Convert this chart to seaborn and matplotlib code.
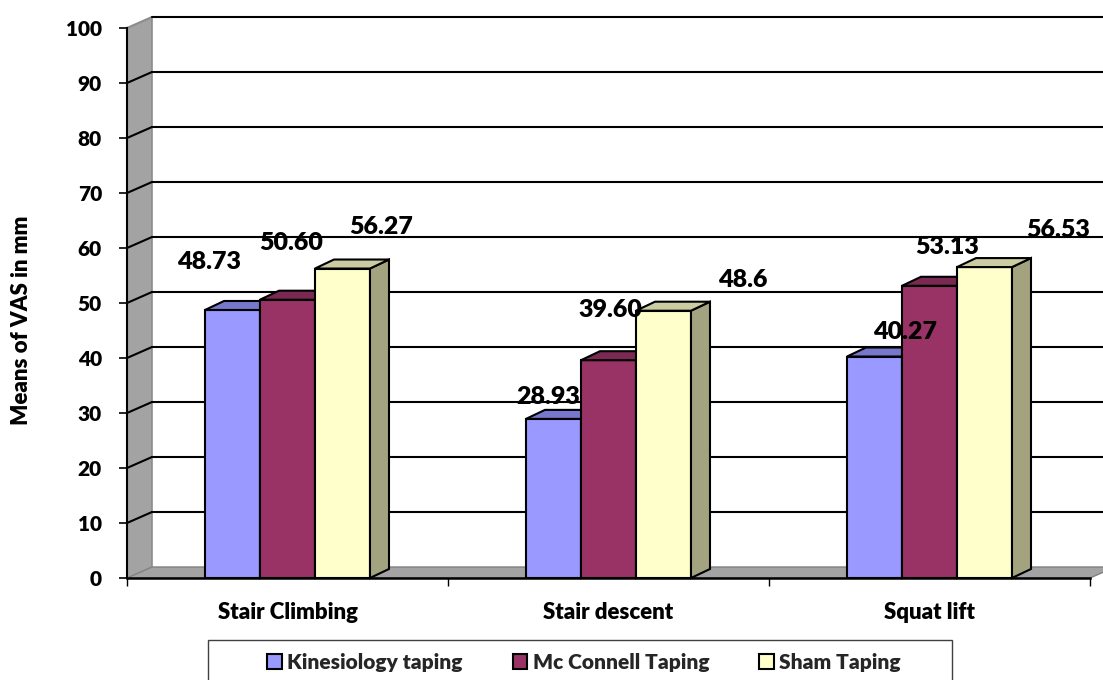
import matplotlib
matplotlib.use("Agg")
import numpy as np
import pandas as pd
import matplotlib.pyplot as plt
import seaborn as sns
from matplotlib.patches import Polygon, Rectangle, Patch
from matplotlib.lines import Line2D

# ---------------- data ----------------
categories = ["Stair Climbing", "Stair descent", "Squat lift"]
series = ["Kinesiology taping", "Mc Connell Taping", "Sham Taping"]
kinesiology = [48.73, 28.93, 40.27]
mcconnell = [50.60, 39.60, 53.13]
sham = [56.27, 48.60, 56.53]
value_labels = [["48.73", "28.93", "40.27"],
                ["50.60", "39.60", "53.13"],
                ["56.27", "48.6", "56.53"]]
y_ticks = list(range(0, 101, 10))
y_title = "Means of VAS in mm"

# ---------------- styles ----------------
front_colors = ["#9999FF", "#993366", "#FFFFCC"]
top_colors = ["#7777CC", "#7A2952", "#CCCCA3"]
side_colors = ["#7777CC", "#7A2952", "#A3A380"]
wall_grey = "#A3A3A3"
# label offsets in pixels relative to the top-centre of each bar [series][category]
label_offsets = [[(-23, 48), (-5, 22), (31, 25)],
                 [(4, 57), (2, 50), (18, 39)],
                 [(39, 42), (79, 31), (74, 37)]]
wall_depth = (25, 11)
bar_depth = (19, 9)
WEIGHT = "heavy"

sns.set_theme(style="white")
plt.rcParams["font.family"] = ["Lato", "DejaVu Sans"]
plt.rcParams["font.weight"] = WEIGHT

W, H = 1103, 680
fig = plt.figure(figsize=(W / 100, H / 100), dpi=100)
fig.patch.set_facecolor("white")
ax = fig.add_axes([127 / W, 102 / H, 963 / W, 550 / H])
ax.set_facecolor("none")

df = pd.DataFrame({
    "Task": categories * 3,
    "Taping": [series[0]] * 3 + [series[1]] * 3 + [series[2]] * 3,
    "Value": kinesiology + mcconnell + sham,
})

sns.barplot(data=df, x="Task", y="Value", hue="Taping", order=categories,
            hue_order=series, palette=front_colors, saturation=1,
            width=0.514, edgecolor="black", linewidth=1.5, ax=ax,
            legend=False, err_kws={"linewidth": 0})

ax.set_xlim(-0.5, 2.5)
ax.set_ylim(0, 100)
fig.canvas.draw()


def off(x, y, d):
    p = ax.transData.transform((x, y)) + np.array(d)
    return tuple(ax.transData.inverted().transform(p))


# side wall
x0, x1 = -0.5, 2.5
side = Polygon([(x0, 0), (x0, 100), off(x0, 100, wall_depth), off(x0, 0, wall_depth)],
               closed=True, facecolor=wall_grey, edgecolor="none", zorder=0.5, clip_on=False)
ax.add_patch(side)
# floor
floor = Polygon([(x0, 0), (x1, 0), off(x1, 0, wall_depth), off(x0, 0, wall_depth)],
                closed=True, facecolor=wall_grey, edgecolor="#808080", lw=1.0,
                zorder=0.6, clip_on=False)
ax.add_patch(floor)
# back-left edge of the wall
bl0 = off(x0, 0, wall_depth)
bl1 = off(x0, 100, wall_depth)
ax.add_line(Line2D([bl0[0], bl1[0]], [bl0[1], bl1[1]], color="#8C8C8C", lw=1.2,
                   zorder=0.7, clip_on=False))
far_right = 3.0
for lv in y_ticks[1:]:
    b = off(x0, lv, wall_depth)
    col = "#8C8C8C" if lv == 100 else "black"
    ax.add_line(Line2D([x0, b[0]], [lv, b[1]], color=col, lw=1.5, zorder=1, clip_on=False))
    ax.add_line(Line2D([b[0], far_right], [b[1], b[1]], color="black", lw=1.5,
                       zorder=1, clip_on=False))

# 3-D bar faces
for i, cont in enumerate(ax.containers):
    for j, p in enumerate(cont.patches):
        p.set_zorder(3 + 2 * i)
        bx, bw, bh = p.get_x(), p.get_width(), p.get_height()
        top = Polygon([(bx, bh), (bx + bw, bh), off(bx + bw, bh, bar_depth), off(bx, bh, bar_depth)],
                      closed=True, facecolor=top_colors[i], edgecolor="black", lw=1.5,
                      zorder=3.5 + 2 * i, clip_on=False)
        ax.add_patch(top)
        sd = Polygon([(bx + bw, 0), (bx + bw, bh), off(bx + bw, bh, bar_depth), off(bx + bw, 0, bar_depth)],
                     closed=True, facecolor=side_colors[i], edgecolor="black", lw=1.5,
                     zorder=3.4 + 2 * i, clip_on=False)
        ax.add_patch(sd)
        dx, dy = label_offsets[i][j]
        ax.annotate(value_labels[i][j], xy=(bx + bw / 2, bh), xytext=(dx, dy),
                    textcoords="offset pixels", ha="center", va="center",
                    fontsize=18, fontweight=WEIGHT, color="black", zorder=20)

# axes / ticks
for s in ["top", "right"]:
    ax.spines[s].set_visible(False)
ax.spines["left"].set_color("black")
ax.spines["left"].set_linewidth(1.5)
ax.spines["bottom"].set_color("black")
ax.spines["bottom"].set_linewidth(1.8)
ax.spines["left"].set_zorder(2)
ax.spines["bottom"].set_zorder(2)
ax.set_yticks(y_ticks)
ax.set_yticklabels([str(t) for t in y_ticks], fontsize=15, fontweight=WEIGHT)
ax.set_xticks(range(len(categories)))
ax.set_xticklabels(categories, fontsize=16, fontweight=WEIGHT)
ax.set_xticks([-0.5, 0.5, 1.5, 2.5], minor=True)
ax.tick_params(axis="y", which="major", length=6, width=1.2, color="black",
               direction="out", pad=12, left=True, labelcolor="black")
ax.tick_params(axis="x", which="major", length=0, pad=17, labelcolor="black")
ax.tick_params(axis="x", which="minor", length=6, width=1.0, color="black",
               direction="out", bottom=True)
ax.set_xlabel("")
ax.set_ylabel("")
fig.text(22 / W, 1 - 320 / H, y_title, rotation=90, ha="center", va="center",
         fontsize=16, fontweight=WEIGHT, color="black")

# legend
handles = [Patch(facecolor=c, edgecolor="black", lw=1.5) for c in front_colors]
fig.legend(handles, series, loc="center", bbox_to_anchor=(584 / W, 1 - 662 / H), ncol=3,
           frameon=False, prop={"size": 15, "weight": WEIGHT}, handlelength=0.7,
           handleheight=0.7, handletextpad=0.25, columnspacing=2.4)
fig.add_artist(Rectangle((208 / W, -0.05), (952 - 208) / W, 0.05 + 40 / H,
                         transform=fig.transFigure, fill=False, edgecolor="#404040", lw=1.0))

fig.savefig("out.png", dpi=100)
